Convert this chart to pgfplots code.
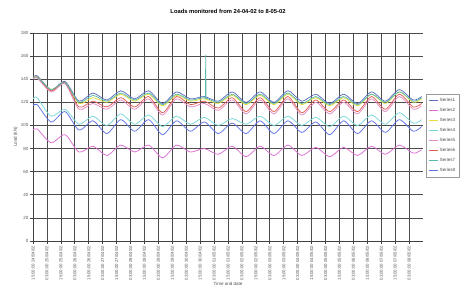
\documentclass[border=0pt]{standalone}
\usepackage{pgfplots}
\pgfplotsset{compat=1.18}
\usepackage{pgfplotstable}
\usepackage{fontspec}
\setmainfont{Liberation Sans}
\definecolor{sA}{RGB}{95,110,190}
\definecolor{sB}{RGB}{220,110,210}
\definecolor{sC}{RGB}{230,220,60}
\definecolor{sD}{RGB}{120,215,215}
\definecolor{sE}{RGB}{225,140,195}
\definecolor{sF}{RGB}{225,95,85}
\definecolor{sG}{RGB}{90,185,170}
\definecolor{sH}{RGB}{95,115,230}
\pgfplotstableread{
t s1 s2 s3 s4 s5 s6 s7 s8
0 141 96 141 123 140 141 141 117
0.3 143 97 142 124 141 142 142 118
1.3 131 85 131 108 129 130 131 103
2.3 138 92 137 114 136 137 137 112
3.3 121 77 119 101 114 116 120 96
4.3 128 82 124 108 119 121 126 104
5.3 122 74 120 100 114 116 121 93
6.3 130 83 127 110 122 124 128 105
7.3 123 77 121 101 114 116 122 95
8.3 130 83 127 109 123 125 128 105
9.3 119 72 117 99 109 111 118 92
10.3 129 83 126 108 123 125 127 104
11.3 123 77 121 101 116 118 122 95
12.3 125 80 123 107 119 121 124 103
13.3 121 75 119 100 113 115 120 93
14.3 129 82 126 106 122 124 127 102
15.3 120 73 118 101 110 112 119 93
16.3 129 82 126 108 122 124 127 104
17.3 120 74 118 100 110 112 119 93
18.3 130 83 127 108 123 125 128 104
19.3 121 74 118 100 109 111 119 94
20.3 127 81 124 107 120 122 125 103
21.3 119 73 117 99 110 112 118 92
22.3 127 81 124 108 120 122 125 104
23.3 119 74 117 100 110 112 118 93
24.3 129 82 127 109 123 125 127 104
25.3 121 75 119 101 112 114 120 94
26.3 131 83 129 111 125 127 129 105
27.3 122 76 120 102 114 116 121 95
27.9 125 79 123 105 117 119 124 99
}\loads
\begin{document}
\begin{tikzpicture}
\path[use as bounding box] (-33pt,-64pt) rectangle (429pt,241pt);
\begin{axis}[
  at={(0,0)}, anchor=south west, scale only axis,
  width=390pt, height=208pt,
  xmin=0, xmax=28, ymin=0, ymax=180,
  ytick={0,20,40,60,80,100,120,140,160,180},
  yticklabels={0,20,40,60,80,100,120,140,160,180},
  xtick={0,...,27},
  xticklabels={
  15:00:00 24/04/02, 03:00:00 25/04/02, 15:00:00 25/04/02, 03:00:00 26/04/02,
  15:00:00 26/04/02, 03:00:00 27/04/02, 15:00:00 27/04/02, 03:00:00 28/04/02,
  15:00:00 28/04/02, 03:00:00 29/04/02, 15:00:00 29/04/02, 03:00:00 30/04/02,
  15:00:00 30/04/02, 03:00:00 01/05/02, 15:00:00 01/05/02, 03:00:00 02/05/02,
  15:00:00 02/05/02, 03:00:00 03/05/02, 15:00:00 03/05/02, 03:00:00 04/05/02,
  15:00:00 04/05/02, 03:00:00 05/05/02, 15:00:00 05/05/02, 03:00:00 06/05/02,
  15:00:00 06/05/02, 03:00:00 07/05/02, 15:00:00 07/05/02, 03:00:00 08/05/02},
  xticklabel style={rotate=90, anchor=east, font=\fontsize{4.3}{5}\selectfont, text=black!65, inner sep=1.5pt},
  yticklabel style={font=\fontsize{4.5}{5}\selectfont, text=black!65, inner sep=1.5pt},
  axis lines=left, axis line style={-, black!75, line width=0.7pt},
  tick align=outside, major tick length=3pt,
  tick style={black!75, line width=0.6pt},
  grid=major,
  major grid style={black!70, line width=0.7pt},
  title={\bfseries Loads monitored from 24-04-02 to 8-05-02},
  title style={font=\fontsize{5.8}{6}\selectfont, at={(0.5,1)}, yshift=10pt},
  xlabel={Time and date},
  ylabel={Load (kN)},
  xlabel style={font=\fontsize{4.5}{5}\selectfont, text=black!70, yshift=3pt},
  ylabel style={font=\fontsize{4.5}{5}\selectfont, text=black!70, yshift=-2pt},
  legend style={at={(1,0.507)}, anchor=west, xshift=3pt,
    font=\fontsize{4.5}{5}\selectfont, text=black!70, draw=black!40,
    row sep=1.2pt, inner sep=2pt, cells={anchor=west}},
  legend cell align=left,
  legend image code/.code={\draw[#1] (0pt,0pt) -- (9pt,0pt);},
  every axis plot/.append style={line width=0.75pt, smooth, tension=0.45},
]
\addplot[sA] table[x=t,y=s1]{\loads}; \addlegendentry{Series1}
\addplot[sB] table[x=t,y=s2]{\loads}; \addlegendentry{Series2}
\addplot[sC] table[x=t,y=s3]{\loads}; \addlegendentry{Series3}
\addplot[sD] table[x=t,y=s4]{\loads}; \addlegendentry{Series4}
\addplot[sE] table[x=t,y=s5]{\loads}; \addlegendentry{Series5}
\addplot[sF] table[x=t,y=s6]{\loads}; \addlegendentry{Series6}
\addplot[sG] table[x=t,y=s7]{\loads}; \addlegendentry{Series7}
\addplot[sH] table[x=t,y=s8]{\loads}; \addlegendentry{Series8}
\addplot[sG, sharp plot, forget plot] coordinates {(12.38,123) (12.4,161) (12.42,123)};
\end{axis}
\end{tikzpicture}
\end{document}
